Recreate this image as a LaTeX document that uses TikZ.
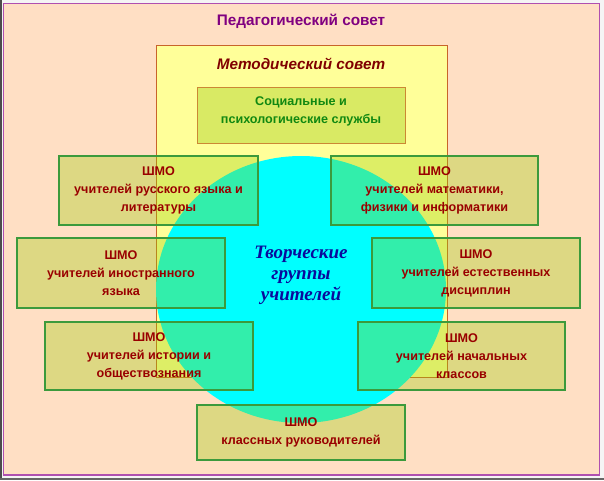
\documentclass[tikz,border=0pt]{standalone}
\usepackage{fontspec}
\setmainfont{Liberation Sans}
\newfontfamily\serifb{Liberation Serif}
\definecolor{peach}{HTML}{FFDFC4}
\definecolor{paleyellow}{HTML}{FFFF99}
\definecolor{ybord}{HTML}{C8642A}
\definecolor{socfill}{HTML}{D9EA64}
\definecolor{socbord}{HTML}{CC8833}
\definecolor{boxfill}{HTML}{99CC00}
\definecolor{boxbord}{HTML}{3C9A3C}
\definecolor{txtred}{HTML}{990000}
\definecolor{titlepurple}{HTML}{800080}
\definecolor{purplebord}{HTML}{B050B0}
\definecolor{metred}{HTML}{800000}
\definecolor{socgreen}{HTML}{118811}
\definecolor{tblue}{HTML}{0A0A9C}
\definecolor{brightcyan}{HTML}{00FFFF}
\begin{document}
\begin{tikzpicture}[x=1pt,y=-1pt,
  shmo/.style={draw=boxbord, line width=1.2pt, fill=boxfill, fill opacity=0.33, text opacity=1,
    inner sep=0pt, align=center, text=txtred, font=\fontsize{12.6}{18}\selectfont\bfseries},
]
\useasboundingbox (0,0) rectangle (604,480);
\fill[white!92!gray] (0,0) rectangle (604,480);
\fill[black!70] (0,0) rectangle (1.5,480);
\fill[black!60] (0,477.5) rectangle (604,480);
\draw[purplebord, line width=1.8pt, fill=peach] (3.5,3.5) rectangle (599.5,475);
\node[font=\fontsize{15.3}{19}\selectfont\bfseries, text=titlepurple] (title) at (301,21.5) {Педагогический совет};
\draw[ybord, line width=0.9pt, fill=paleyellow] (156,45.5) rectangle (447,377) coordinate (metbr);
\coordinate (mettl) at (156,45.5);
\node[font=\fontsize{15.3}{19}\selectfont\bfseries\itshape, text=metred] (met) at (301,64) {Методический совет};
\node[draw=socbord, line width=0.9pt, fill=socfill, minimum width=208pt, minimum height=56pt, inner sep=0pt] (soc) at (301,115) {};
\node[align=center, text=socgreen, font=\fontsize{12.6}{17.5}\selectfont\bfseries] (soctext) at (301,111.5) {Социальные и\\психологические службы};
\fill[brightcyan] (301,289.5) ellipse [x radius=145, y radius=133.5];
\node[font=\serifb\fontsize{19}{20.8}\selectfont\bfseries\itshape, text=tblue, align=center] (tvor) at (301,275.5) {Творческие\\группы\\учителей};
\node[shmo, minimum width=199pt, minimum height=69pt] (rus) at (158.5,190.5) {ШМО\\учителей русского языка и\\литературы};
\node[shmo, minimum width=207pt, minimum height=69pt] (math) at (434.5,190.5) {ШМО\\учителей математики,\\физики и информатики};
\node[shmo, minimum width=208pt, minimum height=70pt] (for) at (121,273) {ШМО\\учителей иностранного\\языка};
\node[shmo, minimum width=208pt, minimum height=70pt] (nat) at (476,273) {ШМО\\учителей естественных\\дисциплин};
\node[shmo, minimum width=208pt, minimum height=68pt] (hist) at (149,356) {ШМО\\учителей истории и\\обществознания};
\node[shmo, minimum width=207pt, minimum height=68pt] (prim) at (461.5,356) {ШМО\\учителей начальных\\классов};
\node[shmo, minimum width=208pt, minimum height=55pt] (cls) at (301,432.5) {ШМО\\классных руководителей};
\end{tikzpicture}
\end{document}
